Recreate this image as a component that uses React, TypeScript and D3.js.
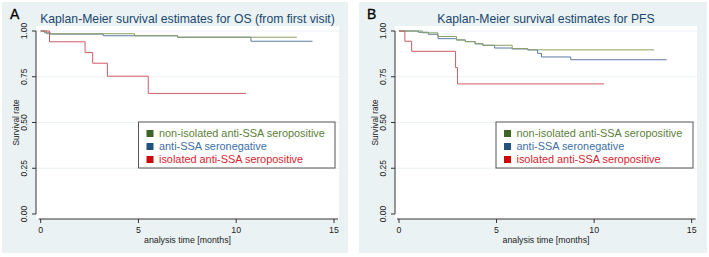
import React from "react";
import * as d3 from "d3";

// ---------- data (time in months, survival probability) ----------
const seriesNames = [
  "non-isolated anti-SSA seropositive",
  "anti-SSA seronegative",
  "isolated anti-SSA seropositive",
];

// Panel A: OS (from first visit)
const osGreen: [number, number][] = [
  [0, 1], [0.3, 0.985], [4.8, 0.974], [7.0, 0.966], [13.1, 0.966],
];
const osBlue: [number, number][] = [
  [0, 1], [0.2, 0.99], [0.5, 0.983], [3.2, 0.974], [7.0, 0.966], [10.75, 0.944], [13.9, 0.944],
];
const osRed: [number, number][] = [
  [0, 1], [0.45, 0.941], [2.27, 0.882], [2.66, 0.824], [3.41, 0.753], [5.5, 0.659], [10.5, 0.659],
];

// Panel B: PFS
const pfsGreen: [number, number][] = [
  [0, 1], [1.2, 0.99], [2.0, 0.97], [2.95, 0.951], [3.4, 0.942], [3.9, 0.93], [4.3, 0.922],
  [5.8, 0.904], [6.6, 0.897], [13.07, 0.897],
];
const pfsBlue: [number, number][] = [
  [0, 1], [1.0, 0.993], [1.5, 0.982], [2.0, 0.958], [2.95, 0.951], [3.4, 0.942], [3.9, 0.93],
  [4.3, 0.922], [4.9, 0.907], [5.8, 0.902], [6.6, 0.897], [7.1, 0.878], [7.3, 0.858],
  [8.8, 0.843], [13.72, 0.843],
];
const pfsRed: [number, number][] = [
  [0, 1], [0.3, 0.944], [0.65, 0.889], [2.9, 0.8], [3.0, 0.711], [10.5, 0.711],
];

const xTicks = [0, 5, 10, 15];
const yTicks = [0, 0.25, 0.5, 0.75, 1];
const yTickLabels = ["0.00", "0.25", "0.50", "0.75", "1.00"];

const lineColors = ["#8ba063", "#5a7ca2", "#cf5b65"];
const swatchColors = ["#3f6327", "#24527f", "#cc0a0a"];
const textColors = ["#5b7f3b", "#3e6fa6", "#d9232d"];

const FONT = "'Liberation Sans', Arial, Helvetica, sans-serif";

interface PanelProps {
  label: string;
  title: string;
  series: [number, number][][];
  bg: [number, number, number, number];
  plot: [number, number, number, number]; // left, top, right, bottom
  xRange: [number, number];
  legend: [number, number, number, number];
}

function Panel({ label, title, series, bg, plot, xRange, legend }: PanelProps) {
  const x = d3.scaleLinear().domain([0, 15]).range(xRange);
  const y = d3.scaleLinear().domain([0, 1]).range([214, 31]);
  const line = d3
    .line<[number, number]>()
    .x((d) => x(d[0]))
    .y((d) => y(d[1]))
    .curve(d3.curveStepAfter);
  const [pl, pt, pr, pb] = plot;
  const cx = (pl + pr) / 2;
  const [lx, ly, lw, lh] = legend;
  const order = [1, 0, 2];
  return (
    <g>
      <rect x={bg[0]} y={bg[1]} width={bg[2]} height={bg[3]} fill="#eaf2f3" />
      <rect x={pl} y={pt} width={pr - pl} height={pb - pt} fill="#ffffff" />
      {yTicks.slice(1).map((t) => (
        <line key={t} x1={pl} x2={pr} y1={y(t)} y2={y(t)} stroke="#eaf2f3" strokeWidth={1} />
      ))}
      <text x={bg[0] + 8} y={18.5} fontFamily={FONT} fontSize={14} fill="#000" stroke="#000" strokeWidth={0.3}>
        {label}
      </text>
      <text x={cx} y={23} textAnchor="middle" fontFamily={FONT} fontSize={12.2} fill="#1a476f">
        {title}
      </text>
      {/* y axis */}
      <line x1={pl} x2={pl} y1={y(1)} y2={y(0)} stroke="#333" strokeWidth={1} />
      {yTicks.map((t, i) => (
        <g key={t}>
          <line x1={pl - 4} x2={pl} y1={y(t)} y2={y(t)} stroke="#333" strokeWidth={1} />
          <text
            transform={`translate(${pl - 9},${y(t)}) rotate(-90)`}
            textAnchor="middle"
            fontFamily={FONT}
            fontSize={8.5}
            fill="#222"
          >
            {yTickLabels[i]}
          </text>
        </g>
      ))}
      <text
        transform={`translate(${pl - 17},${y(0.5)}) rotate(-90)`}
        textAnchor="middle"
        fontFamily={FONT}
        fontSize={8.3}
        fill="#222"
      >
        Survival rate
      </text>
      {/* x axis */}
      <line x1={x(0) - 2} x2={x(15) + 4} y1={pb} y2={pb} stroke="#333" strokeWidth={1} />
      {xTicks.map((t) => (
        <g key={t}>
          <line x1={x(t)} x2={x(t)} y1={pb} y2={pb + 4} stroke="#333" strokeWidth={1} />
          <text x={x(t)} y={232.5} textAnchor="middle" fontFamily={FONT} fontSize={8.8} fill="#222">
            {t}
          </text>
        </g>
      ))}
      <text x={cx} y={242.5} textAnchor="middle" fontFamily={FONT} fontSize={8.8} fill="#222">
        analysis time [months]
      </text>
      {/* curves */}
      {order.map((i) => (
        <path key={i} d={line(series[i]) || ""} fill="none" stroke={lineColors[i]} strokeWidth={1} />
      ))}
      {/* legend */}
      <rect x={lx} y={ly} width={lw} height={lh} fill="#fff" stroke="#555" strokeWidth={1} />
      {seriesNames.map((n, i) => (
        <g key={n}>
          <rect x={lx + 8} y={ly + 8 + i * 13} width={7} height={7} fill={swatchColors[i]} />
          <text x={lx + 20.5} y={ly + 14.8 + i * 13} fontFamily={FONT} fontSize={10.9} fill={textColors[i]}>
            {n}
          </text>
        </g>
      ))}
    </g>
  );
}

export default function App() {
  return (
    <svg width={709} height={257} style={{ display: "block", position: "absolute", left: 0, top: 0 }}>
      <rect x={0} y={0} width={709} height={257} fill="#fff" />
      <Panel
        label="A"
        title="Kaplan-Meier survival estimates for OS (from first visit)"
        series={[osGreen, osBlue, osRed]}
        bg={[2, 2, 346, 251]}
        plot={[36, 26, 339, 219]}
        xRange={[40.7, 334]}
        legend={[138.5, 122, 196.5, 46]}
      />
      <Panel
        label="B"
        title="Kaplan-Meier survival estimates for PFS"
        series={[pfsGreen, pfsBlue, pfsRed]}
        bg={[359, 2, 348, 251]}
        plot={[395, 26, 697, 219]}
        xRange={[399, 691.7]}
        legend={[496, 122, 197, 46]}
      />
    </svg>
  );
}
